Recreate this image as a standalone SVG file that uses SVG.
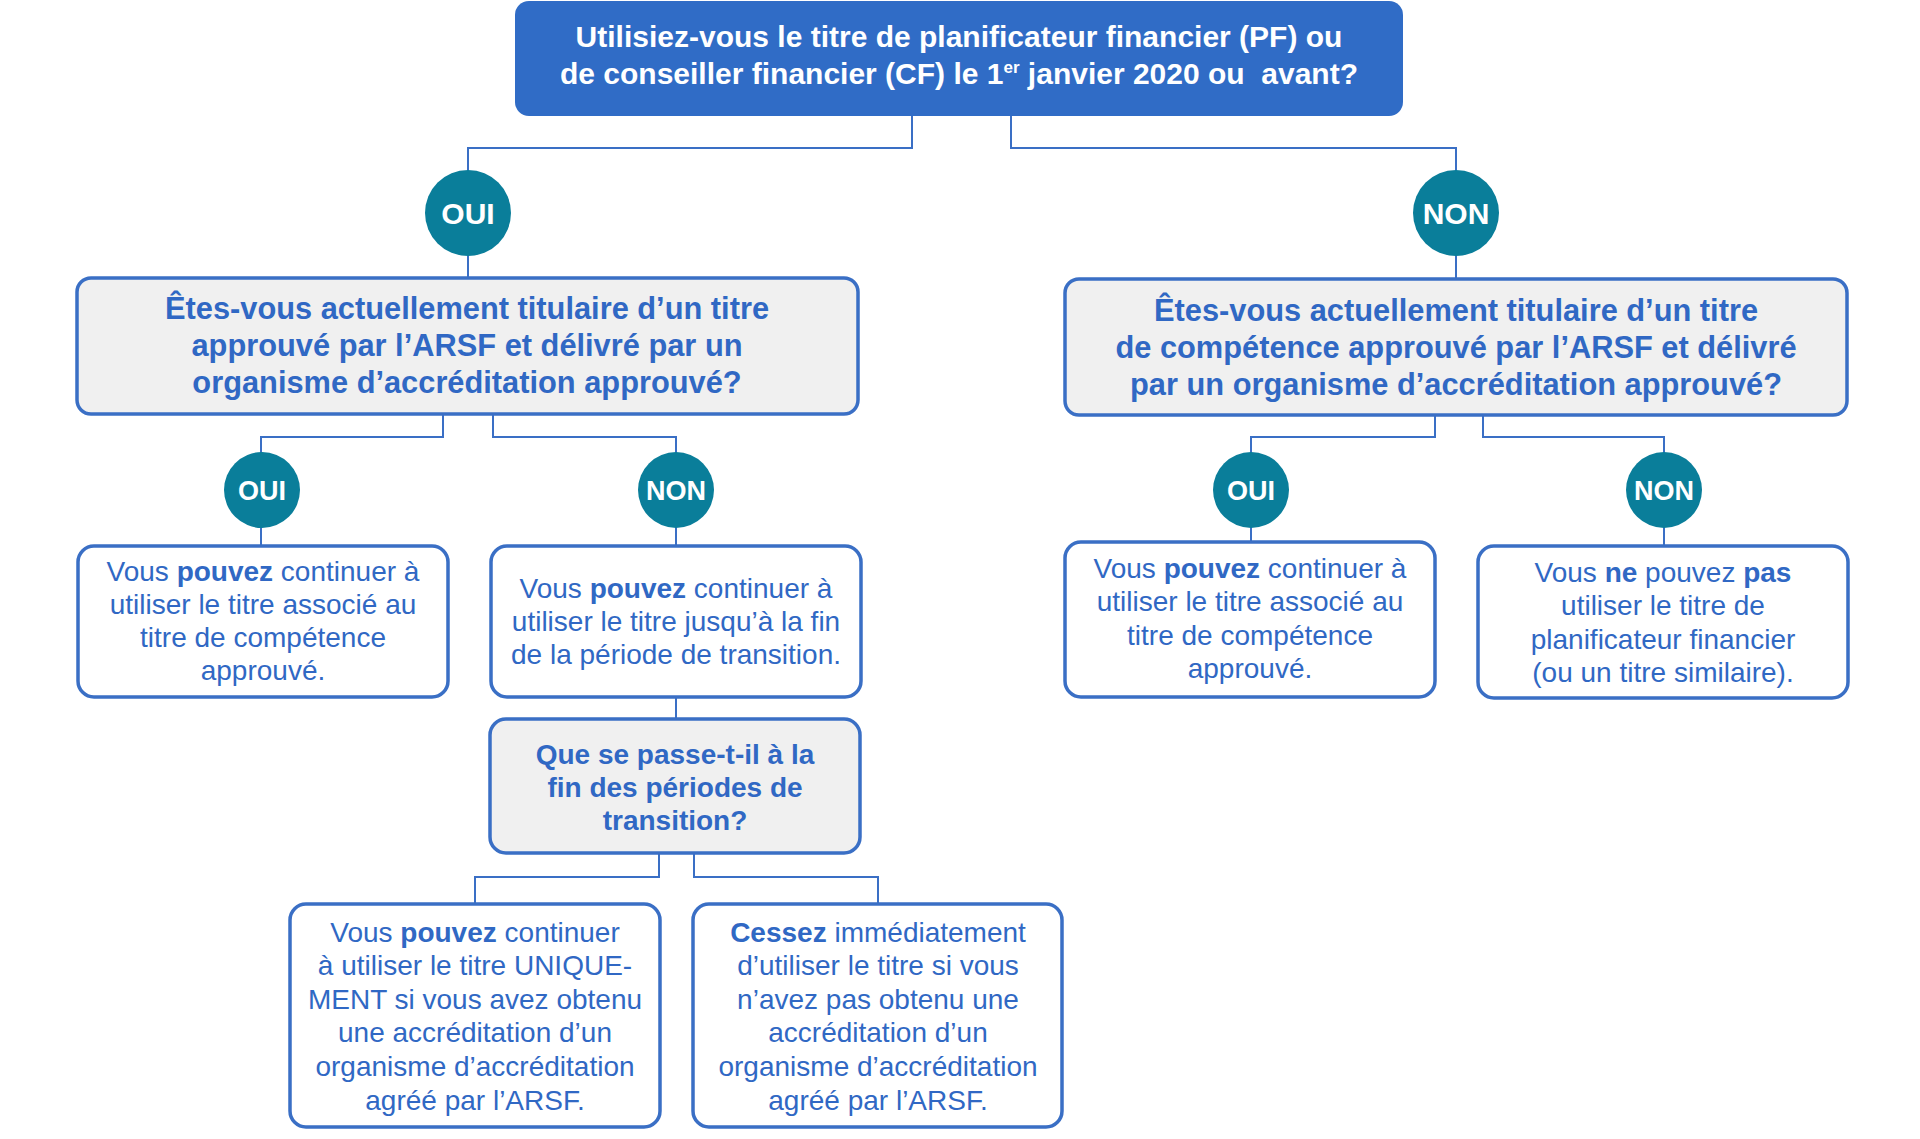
<svg xmlns="http://www.w3.org/2000/svg" width="1920" height="1139" viewBox="0 0 1920 1139">
<style>
text{font-family:"Liberation Sans",Arial,Helvetica,sans-serif;text-anchor:middle}
.top{fill:#306CC6}
.topt{fill:#FFFFFF;font-weight:bold;font-size:30px}
.q{fill:#F0F0F0;stroke:#3A6FC5;stroke-width:3.5}
.qt{fill:#3068C4;font-weight:bold;font-size:30.8px}
.qs{fill:#3068C4;font-weight:bold;font-size:28px}
.a{fill:#FFFFFF;stroke:#3A6FC5;stroke-width:3.5}
.at{fill:#3068C4;font-size:28px}
.b{font-weight:bold}
.c{fill:#0A7E9A}
.ct1{fill:#FFFFFF;font-weight:bold;font-size:30px}
.ct2{fill:#FFFFFF;font-weight:bold;font-size:27px}
.ln{fill:none;stroke:#3A6FC5;stroke-width:2}
</style>
<g id="connectors">
<path class="ln" d="M912 116 V148 H468 V278"/>
<path class="ln" d="M1011 116 V148 H1456 V279"/>
<path class="ln" d="M443 414 V437 H261 V546"/>
<path class="ln" d="M493 414 V437 H676 V546"/>
<path class="ln" d="M1435 415 V437 H1251 V542"/>
<path class="ln" d="M1483 415 V437 H1664 V546"/>
<path class="ln" d="M676 697 V720"/>
<path class="ln" d="M659 853 V877 H475 V904"/>
<path class="ln" d="M694 853 V877 H878 V904"/>
</g>
<g id="n-start">
<rect class="top" x="515" y="1" width="888" height="115" rx="14"/>
<text class="topt" x="959" y="47">Utilisiez-vous le titre de planificateur financier (PF) ou</text>
<text class="topt" x="959" y="84" xml:space="preserve">de conseiller financier (CF) le 1<tspan font-size="17" dy="-11">er</tspan><tspan dy="11"> janvier 2020 ou  avant?</tspan></text>
</g>
<g id="c-oui1">
<circle class="c" cx="468" cy="213" r="43"/>
<text class="ct1" x="468" y="224">OUI</text>
</g>
<g id="c-non1">
<circle class="c" cx="1456" cy="213" r="43"/>
<text class="ct1" x="1456" y="224">NON</text>
</g>
<g id="q-left">
<rect class="q" x="77" y="278" width="781" height="136" rx="14"/>
<text class="qt" x="467" y="319">Êtes-vous actuellement titulaire d’un titre</text>
<text class="qt" x="467" y="356">approuvé par l’ARSF et délivré par un</text>
<text class="qt" x="467" y="393">organisme d’accréditation approuvé?</text>
</g>
<g id="q-right">
<rect class="q" x="1065" y="279" width="782" height="136" rx="14"/>
<text class="qt" x="1456" y="321">Êtes-vous actuellement titulaire d’un titre</text>
<text class="qt" x="1456" y="358">de compétence approuvé par l’ARSF et délivré</text>
<text class="qt" x="1456" y="395">par un organisme d’accréditation approuvé?</text>
</g>
<g id="c-oui2l">
<circle class="c" cx="262" cy="490" r="38"/>
<text class="ct2" x="262" y="500">OUI</text>
</g>
<g id="c-non2l">
<circle class="c" cx="676" cy="490" r="38"/>
<text class="ct2" x="676" y="500">NON</text>
</g>
<g id="c-oui2r">
<circle class="c" cx="1251" cy="490" r="38"/>
<text class="ct2" x="1251" y="500">OUI</text>
</g>
<g id="c-non2r">
<circle class="c" cx="1664" cy="490" r="38"/>
<text class="ct2" x="1664" y="500">NON</text>
</g>
<g id="a-left-oui">
<rect class="a" x="78" y="546" width="370" height="151" rx="16"/>
<text class="at" x="263" y="581">Vous <tspan class="b">pouvez</tspan> continuer à</text>
<text class="at" x="263" y="614">utiliser le titre associé au</text>
<text class="at" x="263" y="647">titre de compétence</text>
<text class="at" x="263" y="680">approuvé.</text>
</g>
<g id="a-left-non">
<rect class="a" x="491" y="546" width="370" height="151" rx="16"/>
<text class="at" x="676" y="598">Vous <tspan class="b">pouvez</tspan> continuer à</text>
<text class="at" x="676" y="631">utiliser le titre jusqu’à la fin</text>
<text class="at" x="676" y="664">de la période de transition.</text>
</g>
<g id="a-right-oui">
<rect class="a" x="1065" y="542" width="370" height="155" rx="16"/>
<text class="at" x="1250" y="578">Vous <tspan class="b">pouvez</tspan> continuer à</text>
<text class="at" x="1250" y="611">utiliser le titre associé au</text>
<text class="at" x="1250" y="645">titre de compétence</text>
<text class="at" x="1250" y="678">approuvé.</text>
</g>
<g id="a-right-non">
<rect class="a" x="1478" y="546" width="370" height="152" rx="16"/>
<text class="at" x="1663" y="582">Vous <tspan class="b">ne</tspan> pouvez <tspan class="b">pas</tspan></text>
<text class="at" x="1663" y="615">utiliser le titre de</text>
<text class="at" x="1663" y="649">planificateur financier</text>
<text class="at" x="1663" y="682">(ou un titre similaire).</text>
</g>
<g id="q-fin">
<rect class="q" x="490" y="719" width="370" height="134" rx="16"/>
<text class="qs" x="675" y="764">Que se passe-t-il à la</text>
<text class="qs" x="675" y="797">fin des périodes de</text>
<text class="qs" x="675" y="830">transition?</text>
</g>
<g id="a-fin-oui">
<rect class="a" x="290" y="904" width="370" height="223" rx="16"/>
<text class="at" x="475" y="942">Vous <tspan class="b">pouvez</tspan> continuer</text>
<text class="at" x="475" y="975">à utiliser le titre UNIQUE-</text>
<text class="at" x="475" y="1009">MENT si vous avez obtenu</text>
<text class="at" x="475" y="1042">une accréditation d’un</text>
<text class="at" x="475" y="1076">organisme d’accréditation</text>
<text class="at" x="475" y="1110">agréé par l’ARSF.</text>
</g>
<g id="a-fin-non">
<rect class="a" x="693" y="904" width="369" height="223" rx="16"/>
<text class="at" x="878" y="942"><tspan class="b">Cessez</tspan> immédiatement</text>
<text class="at" x="878" y="975">d’utiliser le titre si vous</text>
<text class="at" x="878" y="1009">n’avez pas obtenu une</text>
<text class="at" x="878" y="1042">accréditation d’un</text>
<text class="at" x="878" y="1076">organisme d’accréditation</text>
<text class="at" x="878" y="1110">agréé par l’ARSF.</text>
</g>
</svg>
